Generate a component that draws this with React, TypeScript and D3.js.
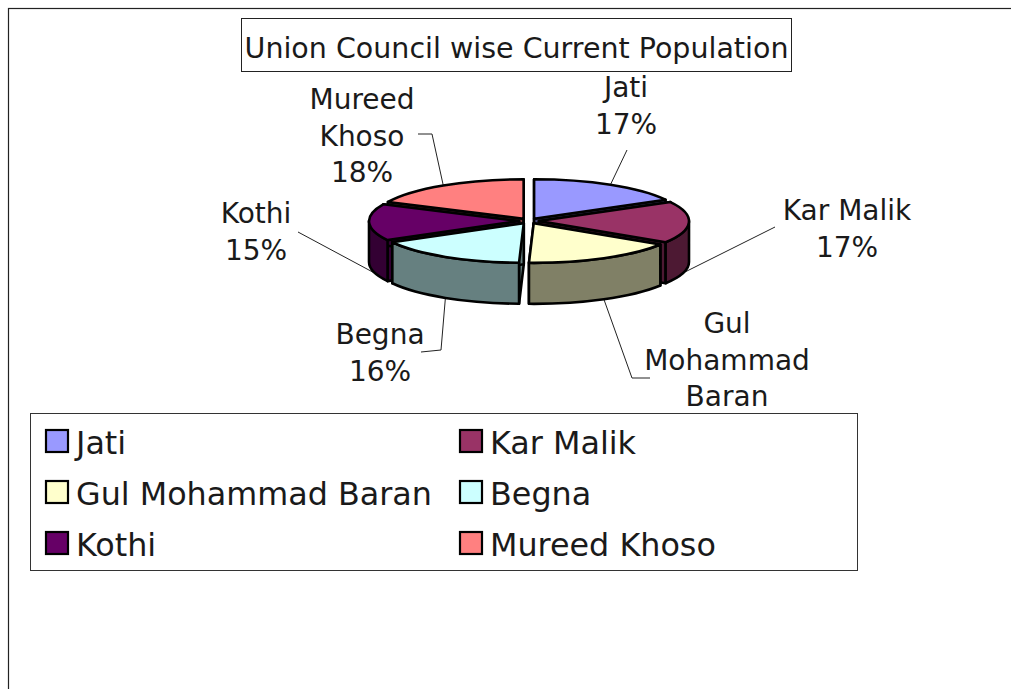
import React from 'react';
import * as d3 from 'd3';

const titleText = 'Union Council wise Current Population';
const categories = ['Jati', 'Kar Malik', 'Gul Mohammad Baran', 'Begna', 'Kothi', 'Mureed Khoso'];
const shares = [17, 17, 16.5, 16.5, 15, 18];
const topColors = ['#9999ff', '#993366', '#ffffcc', '#ccffff', '#660066', '#ff8080'];
const sideColors = ['#4d4d80', '#4d1933', '#808066', '#668080', '#330033', '#804040'];
const labelLines = [
  ['Jati', '17%'],
  ['Kar Malik', '17%'],
  ['Gul', 'Mohammad', 'Baran'],
  ['Begna', '16%'],
  ['Kothi', '15%'],
  ['Mureed', 'Khoso', '18%'],
];

const W = 1011, H = 689;
const FONT = '"DejaVu Sans", Verdana, sans-serif';
const cx = 529, cy = 221, rx = 150, ry = 39.5, depth = 41, explode = 10;
const flat = ry / rx;
// label block centre x, first baseline y
const labelPos: [number, number][] = [[626, 97], [847, 220], [727, 333], [380, 344], [256, 223], [362, 109]];
// leader: list of points from label side; last point sits on the rim
const leaderPts: [number, number][][] = [
  [[627, 150]],
  [[775, 227]],
  [[650, 378], [632, 378]],
  [[421, 352], [441, 350]],
  [[298, 232]],
  [[418, 134], [432, 134]],
];
const leaderAngleFix = [0, 14, 0, 0, -15, 0];
const leaderDepth = [0, 1, 1, 1, 1, 0];

const pie = d3.pie<number>().sort(null).startAngle(0).endAngle(2 * Math.PI);
const arcs = pie(shares);

const pt = (a: number, off: [number, number], y = 0): [number, number] => [
  off[0] + rx * Math.sin(a),
  off[1] - ry * Math.cos(a) + y,
];

function topPath(a0: number, a1: number, o: [number, number]) {
  const p = d3.path();
  p.moveTo(o[0], o[1]);
  p.lineTo(...pt(a0, o));
  const [ex, ey] = pt(a1, o);
  const large = a1 - a0 > Math.PI ? 1 : 0;
  const s = `${p.toString()}A${rx},${ry},0,${large},1,${ex},${ey}Z`;
  return s;
}

function outerWall(a0: number, a1: number, o: [number, number]) {
  const lo = Math.max(a0, Math.PI / 2), hi = Math.min(a1, 1.5 * Math.PI);
  if (hi <= lo) return null;
  const [x0, y0] = pt(lo, o), [x1, y1] = pt(hi, o);
  return `M${x0},${y0}A${rx},${ry},0,0,1,${x1},${y1}L${x1},${y1 + depth}A${rx},${ry},0,0,0,${x0},${y0 + depth}Z`;
}

function radialWall(a: number, o: [number, number]) {
  const [x, y] = pt(a, o);
  const line = d3.line();
  return line([[o[0], o[1]], [x, y], [x, y + depth], [o[0], o[1] + depth]]) + 'Z';
}

export default function App() {
  const slices = arcs.map((d, i) => {
    const mid = (d.startAngle + d.endAngle) / 2;
    const o: [number, number] = [cx + explode * Math.sin(mid), cy - explode * flat * Math.cos(mid)];
    return { i, d, mid, o };
  });
  const order = [...slices].sort((a, b) => d3.descending(Math.cos(a.mid), Math.cos(b.mid)));
  const legendRows = d3.range(categories.length);
  const colX = d3.scalePoint<number>().domain([0, 1]).range([46, 460]);
  const rowY = d3.scalePoint<number>().domain([0, 1, 2]).range([430, 532]);

  return (
    <svg width={W} height={H} viewBox={`0 0 ${W} ${H}`} style={{ position: 'absolute', left: 0, top: 0, background: '#fff' }} fontFamily={FONT}>
      <rect x={8.5} y={8.5} width={W + 20} height={H + 20} fill="#fff" stroke="#222" strokeWidth={1.2} />
      <rect x={241.5} y={18.5} width={550} height={53} fill="#fff" stroke="#222" strokeWidth={1} />
      <text x={516.5} y={58} textAnchor="middle" fontSize={28.5} fill="#1a1a1a">{titleText}</text>

      {slices.map(({ i, mid, o }) => {
        const a = mid + (leaderAngleFix[i] * Math.PI) / 180;
        const end = pt(a, o, leaderDepth[i] ? depth : 0);
        const pts = [...leaderPts[i], end];
        return <path key={i} d={d3.line()(pts)!} fill="none" stroke="#222" strokeWidth={1} />;
      })}

      {order.map(({ i, d, o }) => {
        const wall = outerWall(d.startAngle, d.endAngle, o);
        const common = { stroke: '#000', strokeWidth: 2.6, strokeLinejoin: 'round' as const };
        return (
          <g key={i}>
            <path d={radialWall(d.startAngle, o)} fill={sideColors[i]} {...common} />
            <path d={radialWall(d.endAngle, o)} fill={sideColors[i]} {...common} />
            {wall && <path d={wall} fill={sideColors[i]} {...common} />}
            <path d={topPath(d.startAngle, d.endAngle, o)} fill={topColors[i]} {...common} />
          </g>
        );
      })}

      {labelLines.map((lines, i) => (
        <text key={i} x={labelPos[i][0]} y={labelPos[i][1]} textAnchor="middle" fontSize={28} fill="#1a1a1a">
          {lines.map((l, j) => (
            <tspan key={j} x={labelPos[i][0]} dy={j === 0 ? 0 : 36.5}>{l}</tspan>
          ))}
        </text>
      ))}

      <rect x={30.5} y={413.5} width={827} height={157} fill="#fff" stroke="#333" strokeWidth={1} />
      {legendRows.map((i) => {
        const x = colX(i % 2)!, y = rowY(Math.floor(i / 2))!;
        return (
          <g key={i}>
            <rect x={x} y={y} width={22} height={22} fill={topColors[i]} stroke="#000" strokeWidth={2.2} />
            <text x={x + 30} y={y + 24} fontSize={31.8} fill="#1a1a1a">{categories[i]}</text>
          </g>
        );
      })}
    </svg>
  );
}
